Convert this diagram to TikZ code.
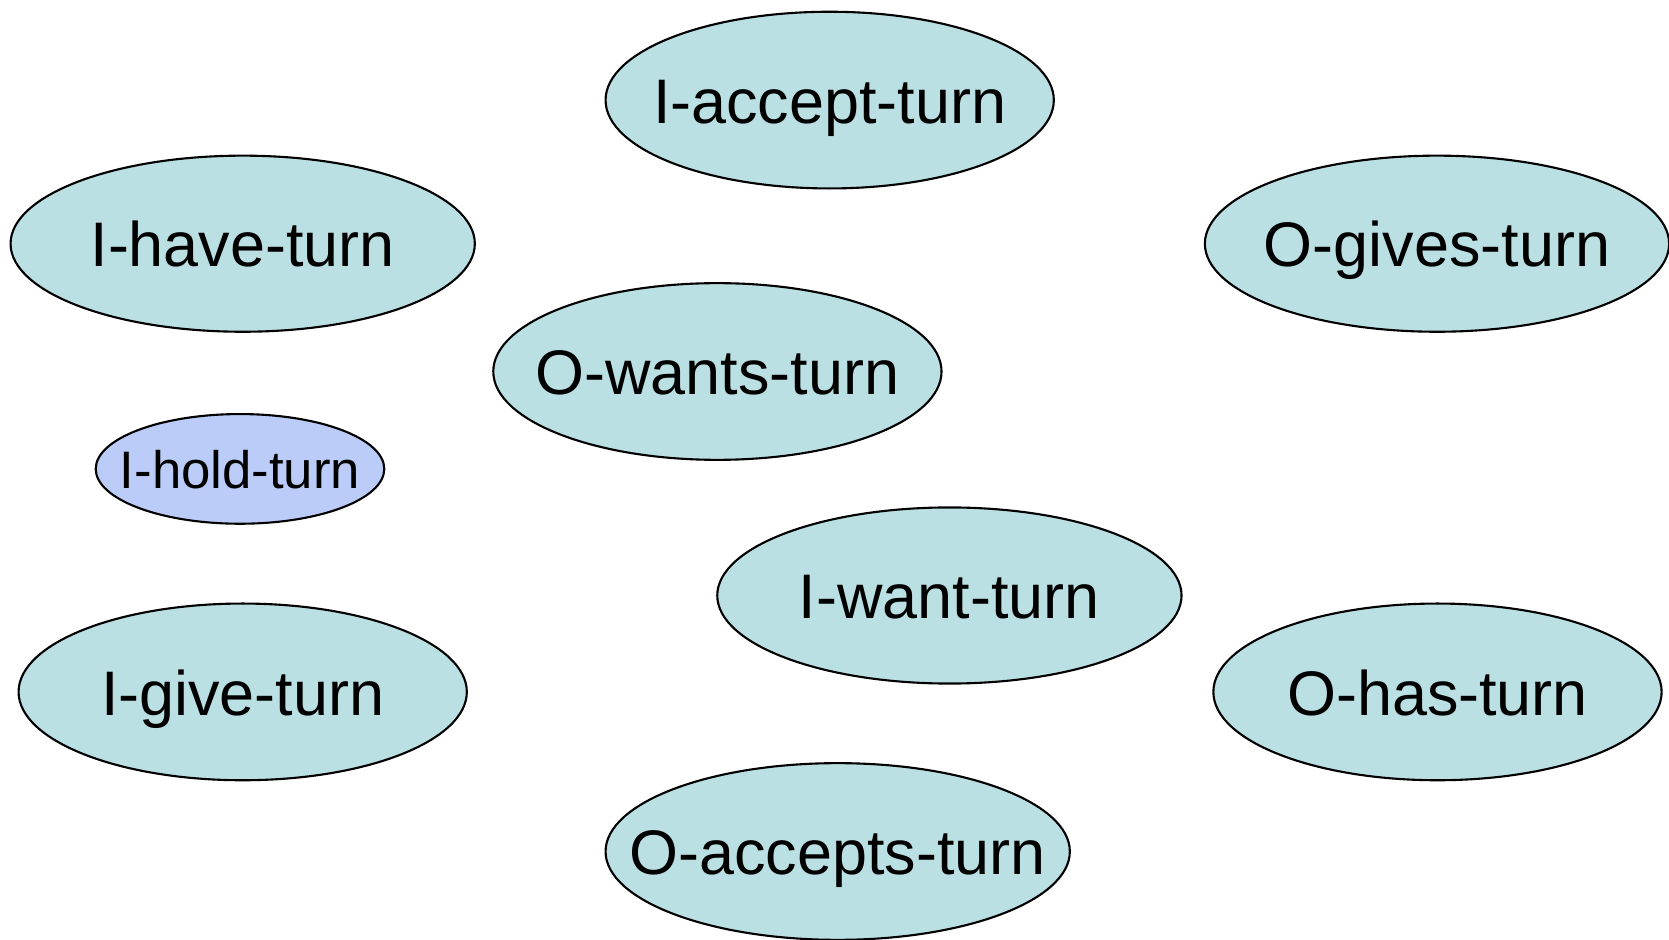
\documentclass[tikz,border=0pt]{standalone}
\usepackage{fontspec}
\setmainfont{Liberation Sans}
\usetikzlibrary{shapes.geometric}
\definecolor{statefill}{RGB}{187,224,227}
\definecolor{holdfill}{RGB}{187,204,248}
\newcommand{\zerobox}[1]{\raisebox{-0.37em}[0pt][0pt]{\makebox[0pt]{#1}}}
\tikzset{
  state/.style={ellipse, draw=black, line width=0.6pt, fill=statefill, inner sep=0pt, outer sep=0pt,
    font=\fontsize{17.9pt}{20pt}\selectfont},
  big/.style={minimum width=4.64cm, minimum height=1.76cm},
  mid/.style={minimum width=4.48cm, minimum height=1.766cm},
  small/.style={fill=holdfill, minimum width=2.884cm, minimum height=1.096cm, font=\fontsize{15pt}{17pt}\selectfont}
}
\begin{document}
\begin{tikzpicture}[x=0.01cm, y=-0.01cm]
\useasboundingbox (0,0) rectangle (1669,940);
\node[state, mid] (iaccept) at (829.7,100.1) {\zerobox{I-accept-turn}};
\node[state, big] (ihave) at (242.7,243.7) {\zerobox{I-have-turn}};
\node[state, big] (ogives) at (1437,243.7) {\zerobox{O-gives-turn}};
\node[state, mid] (owants) at (717.4,371.5) {\zerobox{O-wants-turn}};
\node[state, small] (ihold) at (240,468.9) {\zerobox{I-hold-turn}};
\node[state, big] (iwant) at (949.4,595.5) {\zerobox{I-want-turn}};
\node[state, mid] (igive) at (242.7,691.9) {\zerobox{I-give-turn}};
\node[state, mid] (ohas) at (1437.5,691.9) {\zerobox{O-has-turn}};
\node[state, big, minimum height=1.766cm] (oaccepts) at (837.7,851.5) {\zerobox{O-accepts-turn}};
\end{tikzpicture}
\end{document}
